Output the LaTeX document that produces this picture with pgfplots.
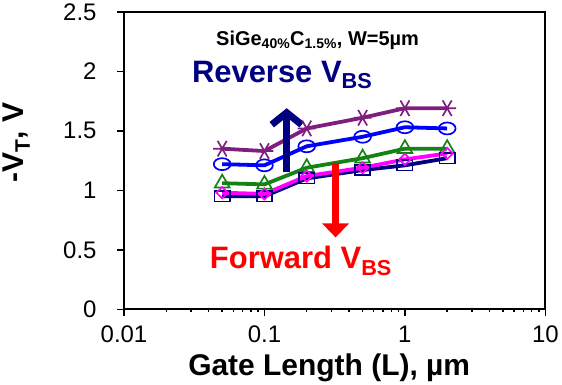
\documentclass[border=0pt]{standalone}
\usepackage{pgfplots}
\pgfplotsset{compat=1.18}
\usepackage{fontspec}
\setmainfont{Liberation Sans}
\usetikzlibrary{arrows.meta}
\definecolor{cpurple}{RGB}{128,30,128}
\definecolor{cblue}{RGB}{0,0,255}
\definecolor{cgreen}{RGB}{20,130,20}
\definecolor{cmag}{RGB}{255,0,255}
\definecolor{cnavy}{RGB}{0,0,128}
\begin{document}
\begin{tikzpicture}
\begin{axis}[
  scale only axis,
  width=422pt, height=298pt,
  xmode=log,
  xmin=0.01, xmax=10,
  ymin=0, ymax=2.5,
  xtick={0.01,0.1,1,10},
  xticklabels={0.01,0.1,1,10},
  ytick={0,0.5,1,1.5,2,2.5},
  yticklabels={0,0.5,1,1.5,2,2.5},
  minor xtick={},
  tick align=outside,
  xtick pos=bottom, ytick pos=left,
  major tick length=7pt,
  tick style={black, line width=1.4pt},
  axis line style={black, line width=1.8pt},
  tick label style={font=\fontsize{24}{28}\selectfont},
  xticklabel style={yshift=-6pt},
  yticklabel style={xshift=-17pt},
  xlabel={\bfseries Gate Length (L), µm},
  xlabel style={font=\fontsize{30}{34}\selectfont, at={(axis description cs:0.487,-0.195)}, anchor=center},
  ylabel={\bfseries -V\textsubscript{T}, V},
  ylabel style={font=\fontsize{30}{34}\selectfont, at={(axis description cs:-0.255,0.56)}, anchor=center},
  clip=false,
]
\addplot[cpurple, line width=3.8pt, mark=asterisk, mark size=9pt, mark options={rotate=90, line width=1.7pt}] coordinates {
 (0.05,1.35) (0.1,1.33) (0.2,1.52) (0.5,1.61) (1,1.69) (2,1.69)};
\addplot[cblue, line width=3.8pt, mark=o, mark size=6pt, mark options={line width=1.7pt, xscale=1.4}] coordinates {
 (0.05,1.22) (0.1,1.21) (0.2,1.37) (0.5,1.45) (1,1.53) (2,1.52)};
\addplot[cgreen, line width=3.8pt, mark=triangle, mark size=8.5pt, mark options={line width=1.7pt}] coordinates {
 (0.05,1.06) (0.1,1.05) (0.2,1.19) (0.5,1.27) (1,1.35) (2,1.35)};
\addplot[cnavy, line width=3.8pt, mark=square, mark size=5.5pt, mark options={line width=1.7pt, xscale=1.4, yscale=0.95}] coordinates {
 (0.05,0.95) (0.1,0.95) (0.2,1.10) (0.5,1.17) (1,1.21) (2,1.27)};
\addplot[cmag, line width=3.8pt, mark=diamond, mark size=7pt, mark options={line width=1.7pt, xscale=1.1, yscale=0.8}] coordinates {
 (0.05,0.98) (0.1,0.97) (0.2,1.12) (0.5,1.19) (1,1.26) (2,1.31)};
\draw[cnavy, line width=7pt, -{Straight Barb[length=12pt,width=30pt]}] (axis cs:0.144,1.15) -- (axis cs:0.144,1.69);
\draw[red, line width=7pt, -{Triangle[length=14pt,width=26pt]}] (axis cs:0.321,1.23) -- (axis cs:0.321,0.604);
\node[anchor=center, font=\fontsize{20}{24}\selectfont\bfseries] at (axis cs:0.239,2.26) {SiGe\textsubscript{40\%}C\textsubscript{1.5\%}, W=5µm};
\node[anchor=base west, inner sep=0pt, text=cnavy, font=\fontsize{31}{34}\selectfont\bfseries] at (axis cs:0.0304,1.907) {Reverse V\textsubscript{BS}};
\node[anchor=base west, inner sep=0pt, text=red, font=\fontsize{31}{34}\selectfont\bfseries] at (axis cs:0.0408,0.341) {Forward V\textsubscript{BS}};
\end{axis}
\end{tikzpicture}
\end{document}
